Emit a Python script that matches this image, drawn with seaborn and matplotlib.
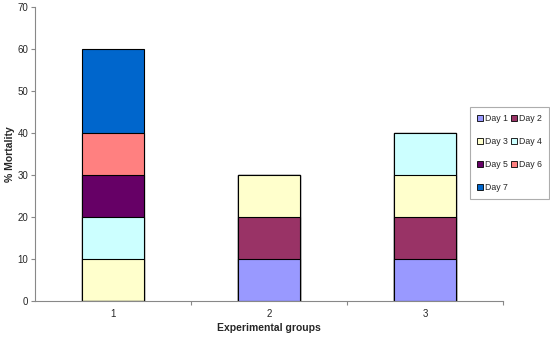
import pandas as pd
import matplotlib
matplotlib.use('Agg')
import matplotlib.pyplot as plt
import seaborn as sns
from matplotlib.patches import Patch
from matplotlib.ticker import FixedLocator

# data
groups = ['1', '2', '3']
days = ['Day 1', 'Day 2', 'Day 3', 'Day 4', 'Day 5', 'Day 6', 'Day 7']
day1 = [0, 10, 10]
day2 = [0, 10, 10]
day3 = [10, 10, 10]
day4 = [10, 0, 10]
day5 = [10, 0, 0]
day6 = [10, 0, 0]
day7 = [20, 0, 0]
colors = ['#9999FF', '#993366', '#FFFFCC', '#CCFFFF', '#660066', '#FF8080', '#0066CC']

sns.set_style('white')
plt.rcParams['font.family'] = ['Liberation Sans', 'DejaVu Sans']

df = pd.DataFrame({'group': groups, 'Day 1': day1, 'Day 2': day2, 'Day 3': day3,
                   'Day 4': day4, 'Day 5': day5, 'Day 6': day6, 'Day 7': day7})
cum = df[days].cumsum(axis=1)

fig = plt.figure(figsize=(5.5, 3.37), dpi=100)
ax = fig.add_axes([0.064, 0.107, 0.851, 0.872])

# draw cumulative totals from the top layer down so each layer covers the next
for i in range(len(days) - 1, -1, -1):
    sns.barplot(x=df['group'], y=cum[days[i]], order=groups, color=colors[i],
                width=0.4, edgecolor='black', linewidth=0.8, saturation=1, ax=ax)

ax.set_ylim(0, 70)
ax.set_xlim(-0.5, 2.5)
ax.set_yticks(range(0, 71, 10))
ax.tick_params(axis='y', labelsize=7, length=3, left=True, color='#888888', width=0.8, pad=2)
ax.tick_params(axis='x', which='major', labelsize=7, length=0, pad=6)
ax.xaxis.set_minor_locator(FixedLocator([0.5, 1.5, 2.5]))
ax.tick_params(axis='x', which='minor', length=3, bottom=True, color='#888888', width=0.8)
ax.set_xlabel('Experimental groups', fontsize=7.5, fontweight='bold', labelpad=3)
ax.set_ylabel('% Mortality', fontsize=7.5, fontweight='bold', labelpad=2)
for s in ['top', 'right']:
    ax.spines[s].set_visible(False)
for s in ['left', 'bottom']:
    ax.spines[s].set_color('#888888')
    ax.spines[s].set_linewidth(0.8)

handles = [Patch(facecolor=colors[i], edgecolor='black', linewidth=0.6, label=days[i])
           for i in range(len(days))]
order = [0, 2, 4, 6, 1, 3, 5]
leg = fig.legend([handles[i] for i in order], [days[i] for i in order], ncol=2,
                 loc='upper left', bbox_to_anchor=(0.855, 0.6825), fontsize=6.3,
                 frameon=True, fancybox=False, handlelength=0.7, handleheight=0.7,
                 handletextpad=0.2, columnspacing=0.3, labelspacing=1.6,
                 borderpad=0.8, borderaxespad=0)
leg.get_frame().set_edgecolor('#999999')
leg.get_frame().set_linewidth(0.8)

plt.savefig('out.png', dpi=100)
